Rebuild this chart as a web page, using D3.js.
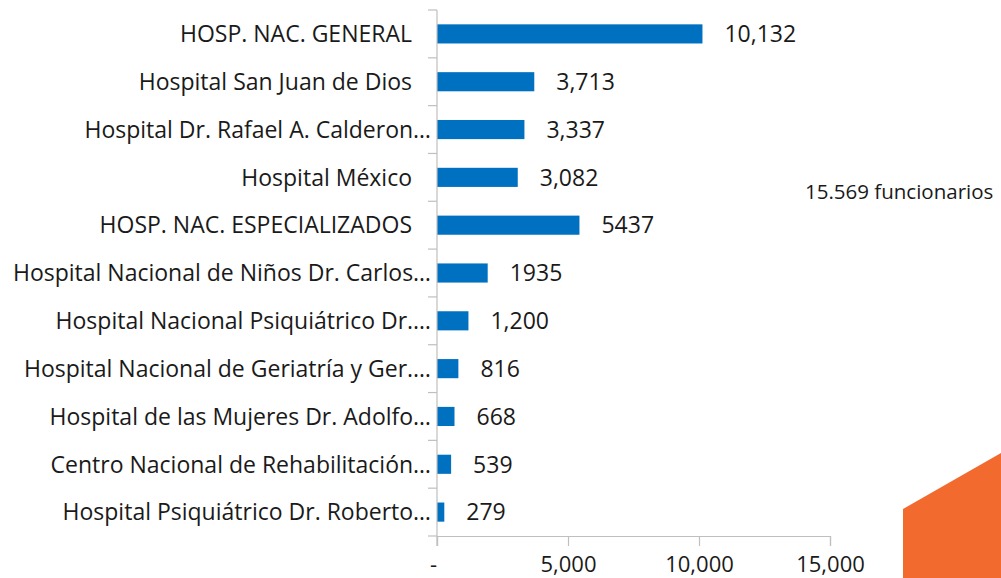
<!DOCTYPE html>
<html lang="es">
<head>
    <meta charset="UTF-8">
    <title>Funcionarios por hospital</title>
    <script src="https://d3js.org/d3.v7.min.js"></script>
    <style>
        body { margin: 0; background: #fff; }
        text { font-family: "Open Sans", "Noto Sans", sans-serif; fill: #1a1a1a; }
    </style>
</head>
<body>
    <svg width="1001" height="578"></svg>

    <script>
        // Categories, values and the label text shown next to each bar
        const categories = [
            "HOSP. NAC. GENERAL",
            "Hospital San Juan de Dios",
            "Hospital Dr. Rafael A. Calderon…",
            "Hospital México",
            "HOSP. NAC. ESPECIALIZADOS",
            "Hospital Nacional de Niños Dr. Carlos…",
            "Hospital Nacional Psiquiátrico Dr.…",
            "Hospital Nacional de Geriatría y Ger.…",
            "Hospital de las Mujeres Dr. Adolfo…",
            "Centro Nacional de Rehabilitación…",
            "Hospital Psiquiátrico Dr. Roberto…"
        ];
        const values = [10132, 3713, 3337, 3082, 5437, 1935, 1200, 816, 668, 539, 279];
        const valueLabels = ["10,132", "3,713", "3,337", "3,082", "5437", "1935", "1,200", "816", "668", "539", "279"];
        const xTicks = [0, 5000, 10000, 15000];
        const xTickLabels = ["-", "5,000", "10,000", "15,000"];
        const note = "15.569 funcionarios";

        const svg = d3.select("svg");

        const margin = { top: 10, left: 437, right: 171, bottom: 42 };
        const W = 1001, H = 578;

        const x = d3.scaleLinear()
            .domain([0, 15000])
            .range([margin.left, W - margin.right]);

        const y = d3.scaleBand()
            .domain(categories)
            .range([margin.top, H - margin.bottom])
            .paddingInner(0.6)
            .paddingOuter(0.3);

        // Orange decoration, bottom right
        svg.append("path")
            .attr("d", "M903,509 L1001,453 L1001,578 L903,578 Z")
            .attr("fill", "#F26A2E");

        // Bars
        svg.selectAll("rect.bar")
            .data(values)
            .enter()
            .append("rect")
            .attr("class", "bar")
            .attr("x", x(0))
            .attr("y", (d, i) => y(categories[i]))
            .attr("width", d => x(d) - x(0))
            .attr("height", y.bandwidth())
            .attr("fill", "#0070C0");

        // Value labels
        svg.selectAll("text.val")
            .data(values)
            .enter()
            .append("text")
            .attr("class", "val")
            .attr("x", d => x(d) + 22)
            .attr("y", (d, i) => y(categories[i]) + y.bandwidth() / 2)
            .attr("dy", "0.36em")
            .style("font-size", "23px")
            .text((d, i) => valueLabels[i]);

        // Category axis (left)
        const y0 = y.range()[0], y1 = y.range()[1];
        svg.append("line")
            .attr("x1", x(0)).attr("x2", x(0))
            .attr("y1", y0).attr("y2", y1 + 10)
            .attr("stroke", "#bfbfbf").attr("stroke-width", 1.2);

        svg.selectAll("line.ytick")
            .data(d3.range(categories.length + 1))
            .enter()
            .append("line")
            .attr("class", "ytick")
            .attr("x1", x(0) - 9).attr("x2", x(0))
            .attr("y1", i => y0 + i * (y1 - y0) / categories.length)
            .attr("y2", i => y0 + i * (y1 - y0) / categories.length)
            .attr("stroke", "#bfbfbf").attr("stroke-width", 1.2);

        // truncated names sit closer to the axis (no trailing space)
        svg.selectAll("text.cat")
            .data(categories)
            .enter()
            .append("text")
            .attr("class", "cat")
            .attr("x", d => d.endsWith("…") ? x(0) - 6 : x(0) - 25)
            .attr("y", d => y(d) + y.bandwidth() / 2)
            .attr("dy", "0.36em")
            .attr("text-anchor", "end")
            .style("font-size", "23px")
            .text(d => d);

        // Value axis (bottom)
        const xAxis = svg.append("g")
            .attr("transform", `translate(0,${y1})`)
            .call(d3.axisBottom(x).tickValues(xTicks).tickSize(10).tickPadding(10)
                .tickFormat((d, i) => xTickLabels[i]));
        xAxis.select(".domain").attr("stroke", "#bfbfbf").attr("stroke-width", 1.2);
        xAxis.selectAll(".tick line").attr("stroke", "#bfbfbf").attr("stroke-width", 1.2);
        xAxis.selectAll(".tick text")
            .style("font-size", "22px")
            .style("font-family", "\"Open Sans\", sans-serif")
            .attr("fill", "#1a1a1a");
        xAxis.selectAll(".tick text").filter((d, i) => i === 0).attr("dx", "-4");

        // Note
        svg.append("text")
            .attr("x", 805)
            .attr("y", 199)
            .style("font-size", "20.5px")
            .text(note);
    </script>
</body>
</html>
